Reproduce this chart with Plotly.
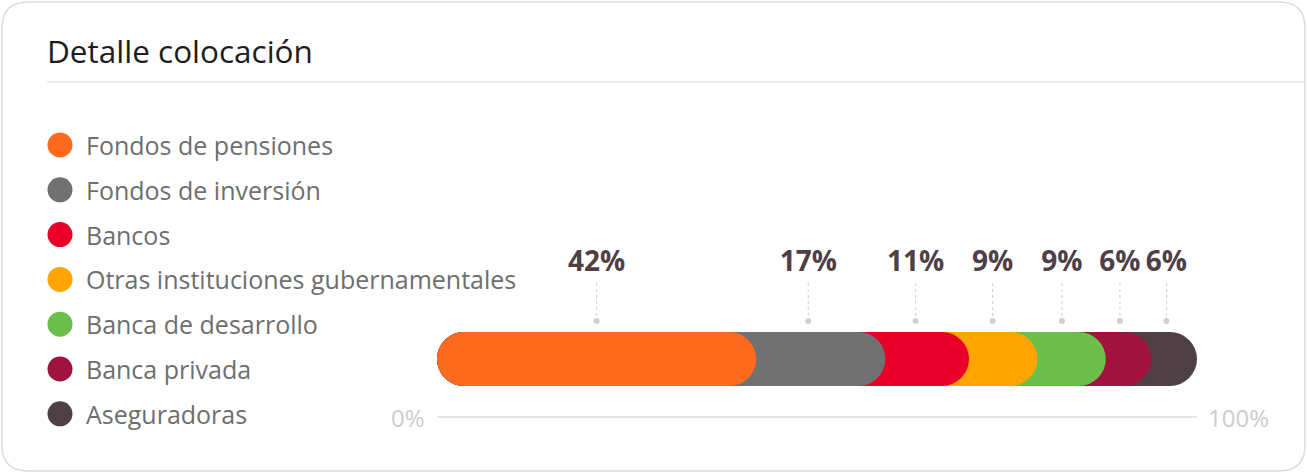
import plotly.graph_objects as go

# ---------------- data ----------------
title = "Detalle colocación"
categories = [
    "Fondos de pensiones",
    "Fondos de inversión",
    "Bancos",
    "Otras instituciones gubernamentales",
    "Banca de desarrollo",
    "Banca privada",
    "Aseguradoras",
]
values = [42, 17, 11, 9, 9, 6, 6]
colors = ["#FE6A1D", "#717171", "#E8002B", "#FFA400", "#6CBF4A", "#A0133F", "#4F4046"]
value_labels = [f"{v}%" for v in values]
axis_labels = ["0%", "100%"]

# ---------------- layout constants (pixel units) ----------------
W, H = 1307, 473
FONT = "Open Sans"
BAR_Y, BAR_H = 359, 54
LABEL_Y, STEM_TOP, STEM_BOT = 264, 283, 321
AXIS_Y = 417
LEG_X, LEG_TEXT_X, LEG_Y0, LEG_DY = 60, 84, 145, 44.8
X0_PX, X1_PX = 437, 1197

n = len(values)
cum = []
s = 0
for v in values:
    s += v
    cum.append(s)
starts = [c - v for c, v in zip(cum, values)]
cap_half = (BAR_H / 2) / ((X1_PX - X0_PX) / 100) / 2
label_x = [starts[0] + values[0] / 2] + [
    (starts[i] + cum[i]) / 2 - cap_half * (1 - i / (2 * n)) for i in range(1, n)
]

fig = go.Figure()

# overlapping pill bars (drawn from last to first so earlier ones sit on top)
for i in reversed(range(n)):
    fig.add_trace(go.Bar(
        x=[cum[i]], base=[0], y=[BAR_Y], orientation="h",
        width=BAR_H, marker=dict(color=colors[i], cornerradius="50%", line_width=0),
        xaxis="x", yaxis="y", hoverinfo="skip", showlegend=False,
    ))

# dotted stems + dots
for xv in label_x:
    fig.add_trace(go.Scatter(
        x=[xv, xv], y=[STEM_TOP, STEM_BOT], mode="lines",
        line=dict(color="#cfcfcf", width=1, dash="dot"),
        xaxis="x", yaxis="y", hoverinfo="skip", showlegend=False,
    ))
fig.add_trace(go.Scatter(
    x=label_x, y=[STEM_BOT] * n, mode="markers",
    marker=dict(color="#cfcfcf", size=6),
    xaxis="x", yaxis="y", hoverinfo="skip", showlegend=False,
))
# value labels
fig.add_trace(go.Scatter(
    x=label_x, y=[LABEL_Y] * n, mode="text", text=value_labels,
    textposition="middle center",
    textfont=dict(family=FONT, size=28, color="#4F4046", weight="bold"),
    xaxis="x", yaxis="y", hoverinfo="skip", showlegend=False, cliponaxis=False,
))
# baseline axis
fig.add_trace(go.Scatter(
    x=[0, 100], y=[AXIS_Y, AXIS_Y], mode="lines",
    line=dict(color="#dcdcdc", width=1.5),
    xaxis="x", yaxis="y", hoverinfo="skip", showlegend=False,
))

# legend circles
fig.add_trace(go.Scatter(
    x=[LEG_X] * n, y=[LEG_Y0 + LEG_DY * i for i in range(n)], mode="markers",
    marker=dict(color=colors, size=25, line_width=0),
    xaxis="x2", yaxis="y2", hoverinfo="skip", showlegend=False,
))

annotations = []
for i, c in enumerate(categories):
    annotations.append(dict(
        x=LEG_TEXT_X, y=LEG_Y0 + LEG_DY * i, xref="x2", yref="y2",
        text=c, showarrow=False, xanchor="left", yanchor="middle",
        font=dict(family=FONT, size=25, color="#6E6E6E"),
    ))
annotations.append(dict(
    x=45, y=50, xref="x2", yref="y2", text=title, showarrow=False,
    xanchor="left", yanchor="middle",
    font=dict(family=FONT, size=31.5, color="#1E1E1E"),
))
annotations.append(dict(
    x=0, y=AXIS_Y, xref="x", yref="y", text=axis_labels[0], showarrow=False,
    xanchor="right", yanchor="middle", xshift=-10,
    font=dict(family=FONT, size=24, color="#cccccc"),
))
annotations.append(dict(
    x=100, y=AXIS_Y, xref="x", yref="y", text=axis_labels[1], showarrow=False,
    xanchor="left", yanchor="middle", xshift=9,
    font=dict(family=FONT, size=24, color="#cccccc"),
))

# card frame and separator (decoration, in pixel axes)
r = 26
x0, y0, x1, y1 = 2, 2, W - 2, H - 2
card_path = (
    f"M {x0 + r},{y0} L {x1 - r},{y0} Q {x1},{y0} {x1},{y0 + r} "
    f"L {x1},{y1 - r} Q {x1},{y1} {x1 - r},{y1} L {x0 + r},{y1} "
    f"Q {x0},{y1} {x0},{y1 - r} L {x0},{y0 + r} Q {x0},{y0} {x0 + r},{y0} Z"
)
shapes = [
    dict(type="path", path=card_path, xref="x2", yref="y2",
         line=dict(color="#dcdcdc", width=1.5), fillcolor="rgba(0,0,0,0)", layer="below"),
    dict(type="line", x0=47, x1=W - 2, y0=82, y1=82, xref="x2", yref="y2",
         line=dict(color="#d9d9d9", width=1.2)),
]

fig.update_layout(
    width=W, height=H,
    margin=dict(l=0, r=0, t=0, b=0),
    paper_bgcolor="white", plot_bgcolor="rgba(0,0,0,0)",
    barmode="overlay", showlegend=False,
    xaxis=dict(domain=[X0_PX / W, X1_PX / W], range=[0, 100], visible=False, fixedrange=True),
    yaxis=dict(domain=[0, 1], range=[H, 0], visible=False, fixedrange=True),
    xaxis2=dict(domain=[0, 1], range=[0, W], visible=False, anchor="y2", fixedrange=True),
    yaxis2=dict(domain=[0, 1], range=[H, 0], visible=False, anchor="x2", fixedrange=True),
    annotations=annotations,
    shapes=shapes,
    hovermode=False,
)

fig.write_html(
    "out.html",
    config={"displayModeBar": False},
    post_script="document.body.style.margin='0';document.body.style.overflow='hidden';",
)
